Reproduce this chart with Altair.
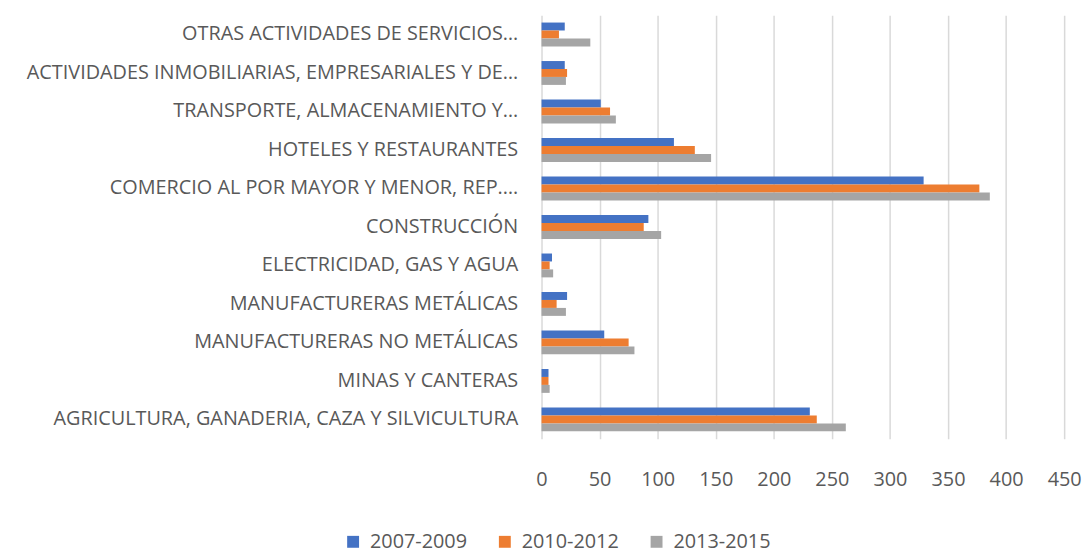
import altair as alt
import pandas as pd

categories = [
    "OTRAS ACTIVIDADES DE SERVICIOS…",
    "ACTIVIDADES INMOBILIARIAS, EMPRESARIALES Y DE…",
    "TRANSPORTE, ALMACENAMIENTO Y…",
    "HOTELES Y RESTAURANTES ",
    "COMERCIO AL POR MAYOR Y MENOR, REP.…",
    "CONSTRUCCIÓN ",
    "ELECTRICIDAD, GAS Y AGUA ",
    "MANUFACTURERAS METÁLICAS",
    "MANUFACTURERAS NO METÁLICAS",
    "MINAS Y CANTERAS",
    "AGRICULTURA, GANADERIA, CAZA Y SILVICULTURA",
]
series = ["2007-2009", "2010-2012", "2013-2015"]
v2007 = [20, 20, 51, 114, 329, 92, 9, 22, 54, 6, 231]
v2010 = [15, 22, 59, 132, 377, 88, 7, 13, 75, 6, 237]
v2013 = [42, 21, 64, 146, 386, 103, 10, 21, 80, 7, 262]
colors = ["#4472C4", "#ED7D31", "#A5A5A5"]
ticks = [0, 50, 100, 150, 200, 250, 300, 350, 400, 450]

rows = []
for s, vals in zip(series, [v2007, v2010, v2013]):
    for c, v in zip(categories, vals):
        rows.append({"cat": c, "serie": s, "val": v})
df = pd.DataFrame(rows)

FONT = "Open Sans"

chart = alt.Chart(df).mark_bar().encode(
    x=alt.X("val:Q", scale=alt.Scale(domain=[0, 450], nice=False),
            axis=alt.Axis(values=ticks, title=None, grid=True, gridColor="#d9d9d9",
                          gridWidth=1.5, domain=False, ticks=False, labelFontSize=20,
                          labelColor="#595959", labelPadding=31, labelFont=FONT,
                          labelFlush=False)),
    y=alt.Y("cat:N", sort=categories,
            scale=alt.Scale(paddingInner=0.38, paddingOuter=0.19),
            axis=alt.Axis(title=None, domain=False, ticks=False, labelFontSize=20,
                          labelColor="#595959", labelPadding=24, labelFont=FONT,
                          labelLimit=700)),
    yOffset=alt.YOffset("serie:N", sort=series),
    color=alt.Color("serie:N", sort=series,
                    scale=alt.Scale(domain=series, range=colors),
                    legend=alt.Legend(title=None, orient="none", direction="horizontal",
                                      legendX=-200, legendY=521,
                                      symbolType="square", symbolSize=144,
                                      symbolStrokeWidth=0, labelOffset=7,
                                      labelFontSize=20, labelColor="#595959",
                                      labelFont=FONT, columnPadding=28)),
).properties(
    width=527, height=427,
    padding={"left": 18, "top": 5, "right": 0, "bottom": 0},
).configure_view(stroke=None)

chart.save("out.html", embed_options={"renderer": "svg", "actions": False})
